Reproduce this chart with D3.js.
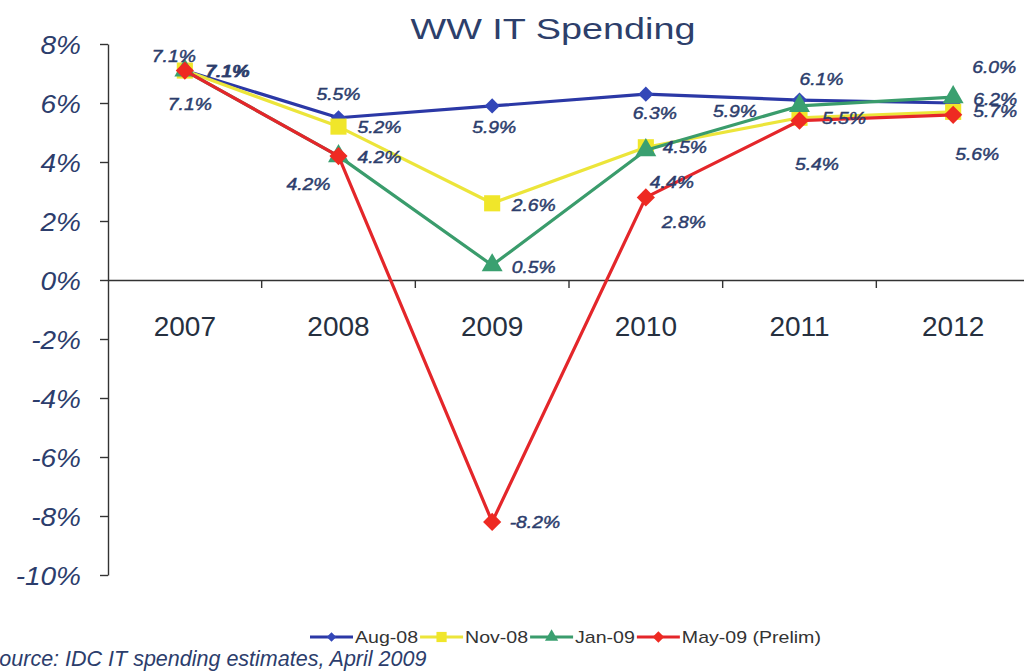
<!DOCTYPE html>
<html>
<head>
<meta charset="utf-8">
<script src="https://cdn.jsdelivr.net/npm/d3@7"></script>
<style>
  html, body { margin: 0; padding: 0; background: #fff; }
  svg { display: block; }
</style>
</head>
<body>
<svg id="chart" width="1024" height="672"></svg>
<script>
// ---- data ----
const years = ["2007", "2008", "2009", "2010", "2011", "2012"];
const seriesNames = ["Aug-08", "Nov-08", "Jan-09", "May-09 (Prelim)"];
const aug08 = [7.1, 5.5, 5.9, 6.3, 6.1, 6.0];
const nov08 = [7.1, 5.2, 2.6, 4.5, 5.5, 5.7];
const jan09 = [7.1, 4.2, 0.5, 4.4, 5.9, 6.2];
const may09 = [7.1, 4.2, -8.2, 2.8, 5.4, 5.6];
const yTicks = [8, 6, 4, 2, 0, -2, -4, -6, -8, -10];
const titleText = "WW IT Spending";
const sourceText = "Source: IDC IT spending estimates, April 2009";

// ---- styles / layout (not data) ----
const colors = ["#2b38a6", "#ece53a", "#3a9c6c", "#e4262a"];
const markerColors = ["#3347b8", "#f0e62a", "#3aa070", "#ee2a22"];
const markerTypes = [d3.symbolSquare, d3.symbolSquare, d3.symbolTriangle, d3.symbolSquare];
const markerRotate = [45, 0, 0, 45];
const markerSizes = [115, 260, 190, 165];
// label offsets [dx, dy] from marker, text-anchor start
const labelOffsets = [
  [[20, 6.5], [-22, -18], [-20, 27], [-13, 25], [0, -15], [19, -30]],
  [[-33, -8.5], [19, 6.5], [19.5, 8], [17, 6], [22.5, 6], [20, 5]],
  [[-17, 39.5], [19, 7], [19.5, 8], [4, 38], [-86.5, 11], [20, 8]],
  [[21, 6.5], [-52, 34], [17.5, 6], [16, 30.5], [-4.5, 49], [2, 45]]
];
const textColor = "#2c3d6c";
const FONT = "'Liberation Sans', Arial, Helvetica, sans-serif";

const svg = d3.select("#chart");
const allSeries = [aug08, nov08, jan09, may09];

const x = d3.scaleBand().domain(years).range([108, 1030]).padding(0);
const y = d3.scaleLinear().domain([-10, 8]).range([575, 44]);
const cx = d => x(d) + x.bandwidth() / 2;

function stretch(sel, factor) {
  sel.each(function () {
    const w = this.getComputedTextLength();
    d3.select(this).attr("textLength", w * factor).attr("lengthAdjust", "spacingAndGlyphs");
  });
}

// title
const title = svg.append("text")
  .attr("x", 553).attr("y", 39)
  .attr("text-anchor", "middle")
  .attr("font-family", FONT).attr("font-size", 30)
  .attr("fill", "#2d3f6b")
  .text(titleText);
title.attr("textLength", 285).attr("lengthAdjust", "spacingAndGlyphs");

// y axis
const yAxis = d3.axisLeft(y).tickValues(yTicks).tickSize(8).tickSizeOuter(0)
  .tickFormat(d => d + "%");
const gy = svg.append("g").attr("transform", "translate(108,0)").call(yAxis);
gy.select(".domain").attr("stroke", "#333").attr("stroke-width", 1.4);
gy.selectAll(".tick line").attr("stroke", "#333").attr("stroke-width", 1.4);
gy.selectAll(".tick text")
  .attr("font-family", FONT).attr("font-size", 25).attr("font-style", "italic")
  .attr("fill", textColor).attr("dy", "0.36em");
gy.selectAll(".tick text").each(function () {
  const t = d3.select(this);
  const w = this.getComputedTextLength() * 1.12;
  t.attr("text-anchor", "start").attr("x", -27 - w)
   .attr("textLength", w).attr("lengthAdjust", "spacingAndGlyphs");
});

// x axis at zero
const xAxis = d3.axisBottom(x).tickSize(0).tickSizeOuter(0);
const gx = svg.append("g").attr("transform", `translate(0,${y(0)})`).call(xAxis);
gx.select(".domain").attr("stroke", "#333").attr("stroke-width", 1.4);
gx.selectAll(".tick text")
  .attr("font-family", FONT).attr("font-size", 28)
  .attr("fill", "#26303f").attr("y", 56).attr("dy", 0);
// boundary ticks
gx.selectAll("line.bt").data(years.slice(1)).enter().append("line")
  .attr("class", "bt")
  .attr("x1", d => x(d)).attr("x2", d => x(d))
  .attr("y1", 0).attr("y2", 8)
  .attr("stroke", "#333").attr("stroke-width", 1.4);

// lines
const line = d3.line().x((d, i) => cx(years[i])).y(d => y(d));
allSeries.forEach((s, si) => {
  svg.append("path").datum(s)
    .attr("d", line).attr("fill", "none")
    .attr("stroke", colors[si]).attr("stroke-width", 3.2)
    .attr("stroke-linejoin", "round");
  svg.append("g").selectAll("path").data(s).enter().append("path")
    .attr("d", d3.symbol().type(markerTypes[si]).size(markerSizes[si]))
    .attr("transform", (d, i) => `translate(${cx(years[i])},${y(d)}) rotate(${markerRotate[si]})`)
    .attr("fill", markerColors[si]);
});

// data labels
allSeries.forEach((s, si) => {
  const g = svg.append("g");
  g.selectAll("text").data(s).enter().append("text")
    .attr("x", (d, i) => cx(years[i]) + labelOffsets[si][i][0])
    .attr("y", (d, i) => y(d) + labelOffsets[si][i][1])
    .attr("font-family", FONT).attr("font-size", 16.5)
    .attr("font-style", "italic")
    .attr("fill", textColor)
    .attr("stroke", textColor).attr("stroke-width", 0.45)
    .text(d => d.toFixed(1) + "%")
    .call(stretch, 1.17);
});

// legend
const legend = svg.append("g").attr("transform", "translate(0,637)");
let lx = 310;
seriesNames.forEach((name, si) => {
  const g = legend.append("g").attr("transform", `translate(${lx},0)`);
  g.append("line").attr("x1", 0).attr("x2", 43).attr("y1", 0).attr("y2", 0)
    .attr("stroke", colors[si]).attr("stroke-width", 3);
  g.append("path")
    .attr("d", d3.symbol().type(markerTypes[si]).size(markerSizes[si] * 0.4))
    .attr("transform", `translate(21.5,0) rotate(${markerRotate[si]})`)
    .attr("fill", markerColors[si]);
  const t = g.append("text").attr("x", 45).attr("y", 6)
    .attr("font-family", FONT).attr("font-size", 17)
    .attr("fill", "#333")
    .text(name);
  const w = t.node().getComputedTextLength() * 1.15;
  t.attr("textLength", w).attr("lengthAdjust", "spacingAndGlyphs");
  lx += 45 + w + 2;
});

// source
svg.append("text")
  .attr("x", -15).attr("y", 666)
  .attr("font-family", FONT).attr("font-size", 21.5).attr("font-style", "italic")
  .attr("fill", "#2c3d6c")
  .text(sourceText);
</script>
</body>
</html>
